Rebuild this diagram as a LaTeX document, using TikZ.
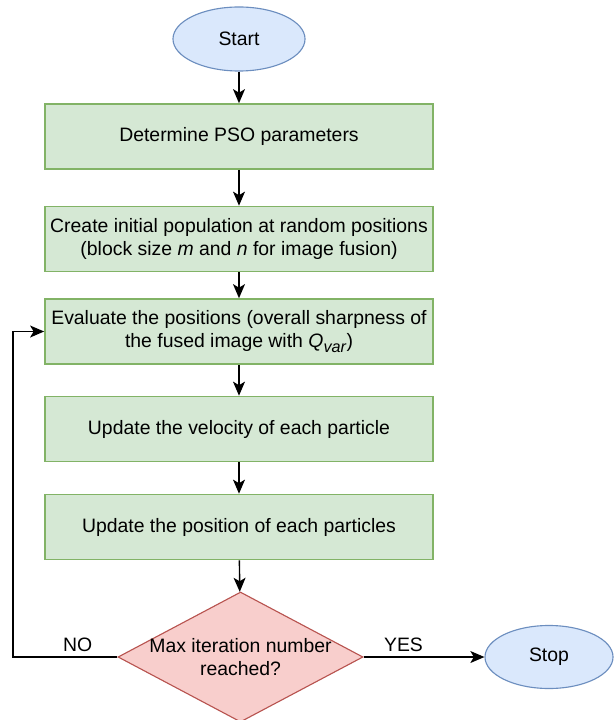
\documentclass[tikz,border=0pt]{standalone}
\usepackage{fontspec}
\setmainfont{Liberation Sans}
\usetikzlibrary{shapes.geometric,arrows.meta}

\definecolor{termfill}{HTML}{DAE8FC}
\definecolor{termline}{HTML}{6C8EBF}
\definecolor{procfill}{HTML}{D5E8D4}
\definecolor{procline}{HTML}{82B366}
\definecolor{decfill}{HTML}{F8CECC}
\definecolor{decline}{HTML}{B85450}

\tikzset{
  terminal/.style={ellipse, draw=termline, fill=termfill, line width=0.8pt, inner sep=0pt},
  process/.style={rectangle, draw=procline, fill=procfill, line width=1.1pt,
    minimum width=9.7cm, minimum height=1.625cm, align=center, inner sep=0pt},
  decision/.style={diamond, draw=decline, fill=decfill, line width=0.8pt,
    inner sep=0pt, minimum width=6.125cm, minimum height=3.25cm},
  flow/.style={line width=1pt, -{Stealth[length=10pt,width=8.5pt,inset=2.5pt]}},
}

\begin{document}
\begin{tikzpicture}[x=0.025cm, y=-0.025cm, font=\fontsize{13.8}{16.6}\selectfont]
                    \useasboundingbox (0,0) rectangle (614,720);
                    % Inicio
                    \node[terminal, minimum width=3.3cm, minimum height=1.6cm]
                       (start) at (239,39) {Start};
                    % Pasos
                    \node[process] (param) at (239,136.5) {Determine PSO parameters};
                    \node[process] (init) at (239,239)
                       {Create initial population at random positions\\
                        (block size \textit{m} and \textit{n} for image fusion)};
                    \node[process] (eval) at (239,331.5)
                       {Evaluate the positions (overall sharpness of\\
                        the fused image with \textit{Q}\raisebox{-0.25em}{\fontsize{11.5}{12}\selectfont\textit{var}})};
                    \node[process] (veloc) at (239,429) {Update the velocity of each particle};
                    \node[process] (posit) at (239,527) {Update the position of each particles};
                    % Decision
                    \node[decision,
                          label={[align=center]center:Max iteration number\\reached?}]
                       (check) at (240.5,657) {};
                    \node[terminal, minimum width=3.2cm, minimum height=1.575cm]
                       (stop) at (549,657) {Stop};
                    \coordinate (loop) at (13,657);
                    % Flechas
                    \draw[flow] (start) -- (param);
                    \draw[flow] (param) -- (init);
                    \draw[flow] (init) -- (eval);
                    \draw[flow] (eval) -- (veloc);
                    \draw[flow] (veloc) -- (posit);
                    \draw[flow] (posit) -- (check);
                    \draw[flow] (check.east) -- node[above, pos=0.33] {YES} (stop.west);
                    \draw[flow] (check.west) -- node[above, pos=0.38] {NO} (loop)
                       |- (eval.west);
                \end{tikzpicture}
\end{document}
